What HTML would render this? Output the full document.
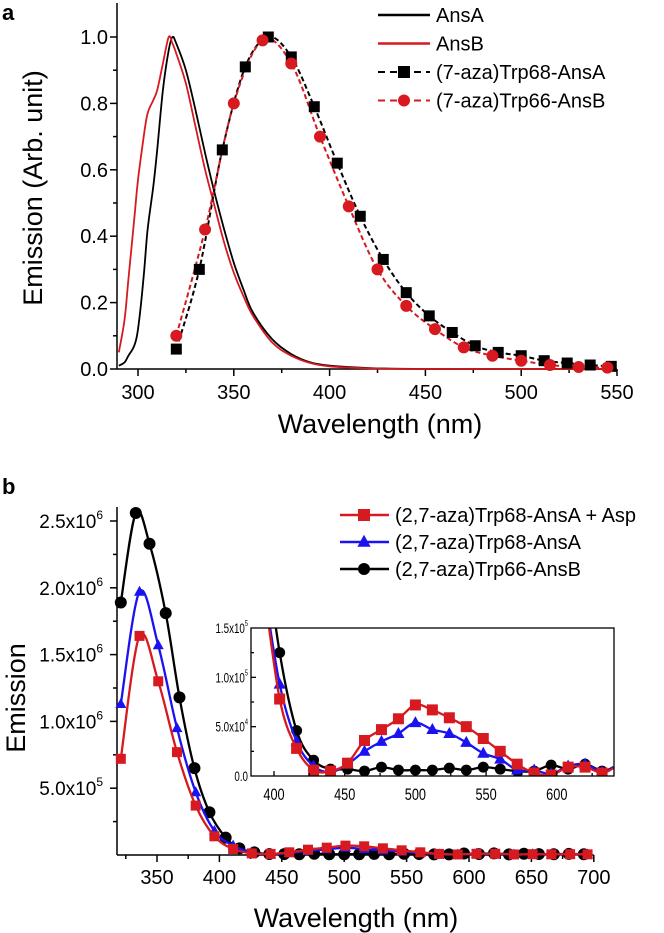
<!DOCTYPE html>
<html><head><meta charset="utf-8"><style>
html,body{margin:0;padding:0;background:#fff}
svg{display:block;font-family:"Liberation Sans",sans-serif}
</style></head><body>
<svg id="fig" width="664" height="933" viewBox="0 0 664 933" xmlns="http://www.w3.org/2000/svg">
<g id="pa"></g>
<g id="pb"></g>
<g id="pi"></g>
</svg>
<script>
// ---------- Panel a data ----------
const aLineX = [290,293,295,298,300,303,305,308,310,313,316,318,320,325,330,335,340,345,350,355,360,370,380,390,400,420,450,500,550];
const ansA   = [0.01,0.02,0.04,0.07,0.12,0.28,0.42,0.55,0.66,0.84,0.96,1.0,0.98,0.9,0.78,0.65,0.53,0.42,0.32,0.24,0.17,0.09,0.045,0.02,0.01,0.003,0,0,0];
const ansB   = [0.05,0.15,0.27,0.45,0.57,0.7,0.77,0.81,0.84,0.92,1.0,0.98,0.95,0.86,0.73,0.6,0.49,0.38,0.29,0.22,0.16,0.08,0.04,0.018,0.008,0.002,0,0,0];
const sqX = [320,332,344,356,368,380,392,404,416,428,440,452,464,476,488,500,512,524,536,547];
const sqY = [0.06,0.30,0.66,0.91,1.0,0.94,0.79,0.62,0.46,0.33,0.23,0.16,0.11,0.07,0.05,0.04,0.025,0.018,0.012,0.008];
const ciX = [320,335,350,365,380,395,410,425,440,455,470,485,500,515,530,545];
const ciY = [0.10,0.42,0.80,0.99,0.92,0.70,0.49,0.30,0.19,0.12,0.065,0.04,0.025,0.012,0.006,0.004];
const aXTicks = [300,350,400,450,500,550];
const aYTicks = [0,0.2,0.4,0.6,0.8,1.0];

// ---------- Panel b data (units of 1e6) ----------
const bRX = [321,336,351,366,381,396,411,426,441,456,471,486,501,516,531,546,561,576,591,606,621,636,651,666,681,695];
const bRed = [0.72,1.64,1.30,0.77,0.37,0.14,0.045,0.012,0.008,0.02,0.04,0.055,0.07,0.065,0.05,0.035,0.02,0.008,0.004,0.009,0.009,0.004,0.006,0.005,0.006,0.005];
const bBlue = [1.13,1.97,1.57,0.95,0.47,0.18,0.07,0.02,0.006,0.015,0.03,0.043,0.054,0.045,0.035,0.025,0.016,0.006,0.004,0.01,0.011,0.004,0.006,0.005,0.006,0.005];
const bKX = [321,333,344,357,368,380,392,405,416,428,440,452,464,476,488,500,512,524,536,548,560,572,584,596,608,620,632,644,656,668,680,692];
const bBlack = [1.89,2.56,2.33,1.81,1.18,0.65,0.32,0.13,0.05,0.02,0.007,0.007,0.006,0.009,0.006,0.006,0.006,0.008,0.006,0.009,0.007,0.005,0.005,0.011,0.007,0.012,0.005,0.009,0.007,0.006,0.008,0.006];
const bXTicks = [350,400,450,500,550,600,650,700];
const bYTicks = [0.5,1.0,1.5,2.0,2.5];

// ---------- Inset data (units of 1e4) ----------
const iX = [392,404,416,428,440,452,464,476,488,500,512,524,536,548,560,572,584,596,608,620,632,640];
const iRed = [20,7.8,2.8,0.6,0.5,1.3,3.6,4.7,5.8,7.2,6.7,5.9,5.0,3.8,2.5,1.2,0.3,0.1,0.9,0.9,0.3,0.8];
const iBlue = [20,9.3,3.5,1.0,0.4,1.2,2.5,3.5,4.3,5.4,4.7,4.3,3.4,2.3,1.7,0.6,0.6,0.2,1.0,1.2,0.4,0.9];
const iBlack = [25,12.5,4.6,1.6,0.7,0.7,0.5,0.9,0.6,0.6,0.6,0.8,0.6,0.9,0.7,0.5,0.5,1.1,0.7,1.2,0.5,0.9];
const iXTicks = [400,450,500,550,600];
const iYTicks = [0,5,10,15];
const iYLabels = ["0.0","5.0x10","1.0x10","1.5x10"];

const NS="http://www.w3.org/2000/svg";
function el(tag, attrs, parent){const e=document.createElementNS(NS,tag);for(const k in attrs)e.setAttribute(k,attrs[k]);parent.appendChild(e);return e;}
function smooth(pts){
  if(pts.length<2)return "";
  let d="M"+pts[0][0].toFixed(1)+","+pts[0][1].toFixed(1);
  for(let i=0;i<pts.length-1;i++){
    const p0=pts[i-1]||pts[i],p1=pts[i],p2=pts[i+1],p3=pts[i+2]||p2;
    const c1=[p1[0]+(p2[0]-p0[0])/6,p1[1]+(p2[1]-p0[1])/6];
    const c2=[p2[0]-(p3[0]-p1[0])/6,p2[1]-(p3[1]-p1[1])/6];
    d+="C"+c1[0].toFixed(1)+","+c1[1].toFixed(1)+" "+c2[0].toFixed(1)+","+c2[1].toFixed(1)+" "+p2[0].toFixed(1)+","+p2[1].toFixed(1);
  }
  return d;
}
function marker(g,type,x,y,color,s){
  let m;
  if(type==="sq") m=el("rect",{x:x-s,y:y-s,width:2*s,height:2*s,fill:color},g);
  else if(type==="ci") m=el("circle",{cx:x,cy:y,r:s,fill:color},g);
  else m=el("polygon",{points:`${x},${y-s*1.2} ${x-s*1.1},${y+s*0.8} ${x+s*1.1},${y+s*0.8}`,fill:color},g);
  return m;
}

// ===== Panel A =====
(function(){
  const g=document.getElementById("pa");
  const X=v=>138+(v-300)*1.916, Y=v=>369-v*332;
  const clipA=el("clipPath",{id:"clipA"},g); el("rect",{x:117,y:0,width:505,height:370},clipA);
  const lbl=el("text",{x:2,y:20,"font-size":22,"font-weight":"bold"},g); lbl.textContent="a";
  
  
  const ax=el("g",{stroke:"#000","stroke-width":1.5,fill:"none"},g);
  
  
  el("line",{x1:117,y1:3,x2:117,y2:369},ax);
  el("line",{x1:117,y1:369,x2:X(550),y2:369},ax);
  for(let v=0;v<=1.05;v+=0.1){const y=Y(v);const major=Math.round(v*10)%2===0;el("line",{x1:117-(major?7:4),y1:y,x2:117,y2:y},ax);}
  for(let v=300;v<=550;v+=25){const major=v%50===0;el("line",{x1:X(v),y1:369,x2:X(v),y2:369+(major?7:4)},ax);}
  aYTicks.forEach(v=>{const t=el("text",{x:108,y:Y(v)+7,"font-size":20,"text-anchor":"end"},g);t.textContent=v.toFixed(1);
    
    });
  aXTicks.forEach(v=>{const t=el("text",{x:X(v),y:399,"font-size":20,"text-anchor":"middle"},g);t.textContent=v;
    
    });
  const yt=el("text",{x:0,y:0,"font-size":27,"text-anchor":"middle",transform:"translate(42,188) rotate(-90)"},g);yt.textContent="Emission (Arb. unit)";
  
  
  const xt=el("text",{x:380,y:433,"font-size":27,"text-anchor":"middle"},g);xt.textContent="Wavelength (nm)";
  
  
  const plot=el("g",{"clip-path":"url(#clipA)"},g);
  const lA=el("path",{d:smooth(aLineX.map((x,i)=>[X(x),Y(ansA[i])])),stroke:"#000","stroke-width":1.8,fill:"none"},plot);
  
  
  const lB=el("path",{d:smooth(aLineX.map((x,i)=>[X(x),Y(ansB[i])])),stroke:"#d71920","stroke-width":1.8,fill:"none"},plot);
  
  
  const l1=el("path",{d:smooth(sqX.map((x,i)=>[X(x),Y(sqY[i])])),stroke:"#000","stroke-width":2,fill:"none","stroke-dasharray":"5,3"},plot);
  
  
  const l2=el("path",{d:smooth(ciX.map((x,i)=>[X(x),Y(ciY[i])])),stroke:"#d71920","stroke-width":2,fill:"none","stroke-dasharray":"5,3"},plot);
  
  
  sqX.forEach((x,i)=>{const m=marker(g,"sq",X(x),Y(sqY[i]),"#000",5.5);
    
    });
  ciX.forEach((x,i)=>{const m=marker(g,"ci",X(x),Y(ciY[i]),"#d71920",6);
    
    });
  const leg=[["AnsA","#000",null,null],["AnsB","#d71920",null,null],["(7-aza)Trp68-AnsA","#000","sq","5,3"],["(7-aza)Trp66-AnsB","#d71920","ci","5,3"]];
  leg.forEach((L,i)=>{const y=15+i*28.5;
    const lg=el("g",{},g);
    
    
    const a={x1:378,y1:y,x2:430,y2:y,stroke:L[1],"stroke-width":L[2]?2:2.5};if(L[3])a["stroke-dasharray"]="7,5";
    el("line",a,lg);
    if(L[2])marker(lg,L[2],404,y,L[1],6);
    const t=el("text",{x:436,y:y+7,"font-size":20},lg);t.textContent=L[0];});
})();

// ===== Panel B =====
(function(){
  const g=document.getElementById("pb");
  const X=v=>157+(v-350)*1.248, Y=v=>855-v*133.6;
  const lbl=el("text",{x:2,y:494,"font-size":22,"font-weight":"bold"},g); lbl.textContent="b";
  
  
  const ax=el("g",{stroke:"#000","stroke-width":1.5,fill:"none"},g);
  
  
  el("line",{x1:117,y1:507,x2:117,y2:855},ax);
  el("line",{x1:117,y1:855,x2:X(700),y2:855},ax);
  for(let v=0.25;v<=2.6;v+=0.25){const major=Math.abs(v*2-Math.round(v*2))<0.01;el("line",{x1:117-(major?7:4),y1:Y(v),x2:117,y2:Y(v)},ax);}
  for(let v=325;v<=700;v+=25){const major=v%50===0;el("line",{x1:X(v),y1:855,x2:X(v),y2:855+(major?7:4)},ax);}
  bYTicks.forEach(v=>{const t=el("text",{x:103,y:Y(v)+7,"font-size":19,"text-anchor":"end"},g);
    
    
    const big=v>=1;const mant=big?v.toFixed(1):(v*10).toFixed(1);
    t.appendChild(document.createTextNode(mant+"x10"));
    const s=el("tspan",{dy:-9,"font-size":12},t);s.textContent=big?"6":"5";});
  bXTicks.forEach(v=>{const t=el("text",{x:X(v),y:884,"font-size":20,"text-anchor":"middle"},g);t.textContent=v;
    
    });
  const yt=el("text",{x:0,y:0,"font-size":27,"text-anchor":"middle",transform:"translate(25,698) rotate(-90)"},g);yt.textContent="Emission";
  
  
  const xt=el("text",{x:356,y:927,"font-size":27,"text-anchor":"middle"},g);xt.textContent="Wavelength (nm)";
  
  
  const series=[[bKX,bBlack,"#000","ci","black"],[bRX,bBlue,"#1a12f0","tri","blue"],[bRX,bRed,"#d71920","sq","red"]];
  series.forEach(S=>{
    const p=el("path",{d:smooth(S[0].map((x,i)=>[X(x),Y(S[1][i])])),stroke:S[2],"stroke-width":2.3,fill:"none"},g);
    
    
    S[0].forEach((x,i)=>{const m=marker(g,S[3],X(x),Y(S[1][i]),S[2],S[3]==="ci"?6:5);
      
      });
  });
  const leg=[["(2,7-aza)Trp68-AnsA + Asp","#d71920","sq"],["(2,7-aza)Trp68-AnsA","#1a12f0","tri"],["(2,7-aza)Trp66-AnsB","#000","ci"]];
  leg.forEach((L,i)=>{const y=515+i*27;
    const lg=el("g",{},g);
    
    
    el("line",{x1:340,y1:y,x2:389,y2:y,stroke:L[1],"stroke-width":2.5},lg);
    marker(lg,L[2],364,y,L[1],6);
    const t=el("text",{x:395,y:y+7,"font-size":20},lg);t.textContent=L[0];});
})();

// ===== Inset =====
(function(){
  const g=document.getElementById("pi");
  const L=251,R=614,T=628,B=776;
  const X=v=>274+(v-400)*1.414, Y=v=>B-v*(B-T)/15;
  el("rect",{x:L,y:T,width:R-L,height:B-T,fill:"#fff"},g);
  const clip=el("clipPath",{id:"clipI"},g); el("rect",{x:L,y:T,width:R-L,height:B-T},clip);
  const plot=el("g",{"clip-path":"url(#clipI)"},g);
  const series=[[iBlack,"#000","ci","black"],[iBlue,"#1a12f0","tri","blue"],[iRed,"#d71920","sq","red"]];
  series.forEach(S=>{
    const p=el("path",{d:smooth(iX.map((x,i)=>[X(x),Y(S[0][i])])),stroke:S[1],"stroke-width":2.3,fill:"none"},plot);
    
    
    iX.forEach((x,i)=>{if(i===0||x>636)return;const m=marker(plot,S[2],X(x),Y(S[0][i]),S[1],5.5);
      
      });
  });
  const ax=el("g",{stroke:"#000","stroke-width":1.3,fill:"none"},g);
  
  
  el("rect",{x:L,y:T,width:R-L,height:B-T},ax);
  for(let v=2.5;v<15;v+=2.5)el("line",{x1:L,y1:Y(v),x2:L+(v%5===0?5:3),y2:Y(v)},ax);
  for(let v=400;v<=625;v+=25)el("line",{x1:X(v),y1:B,x2:X(v),y2:B-(v%50===0?5:3)},ax);
  iYTicks.forEach((v,i)=>{const t=el("text",{x:L-3,y:Y(v)+5,"font-size":14,"text-anchor":"end",transform:`translate(${(L-3)*0.3},0) scale(0.7,1)`},g);
    
    
    t.appendChild(document.createTextNode(iYLabels[i]));
    if(i>0){const s=el("tspan",{dy:-7,"font-size":8},t);s.textContent=i===1?"4":"5";}});
  iXTicks.forEach(v=>{const t=el("text",{x:X(v),y:B+24,"font-size":17,"text-anchor":"middle",transform:`translate(${X(v)*0.25},0) scale(0.75,1)`},g);t.textContent=v;
    
    });
})();
</script>
</body></html>
